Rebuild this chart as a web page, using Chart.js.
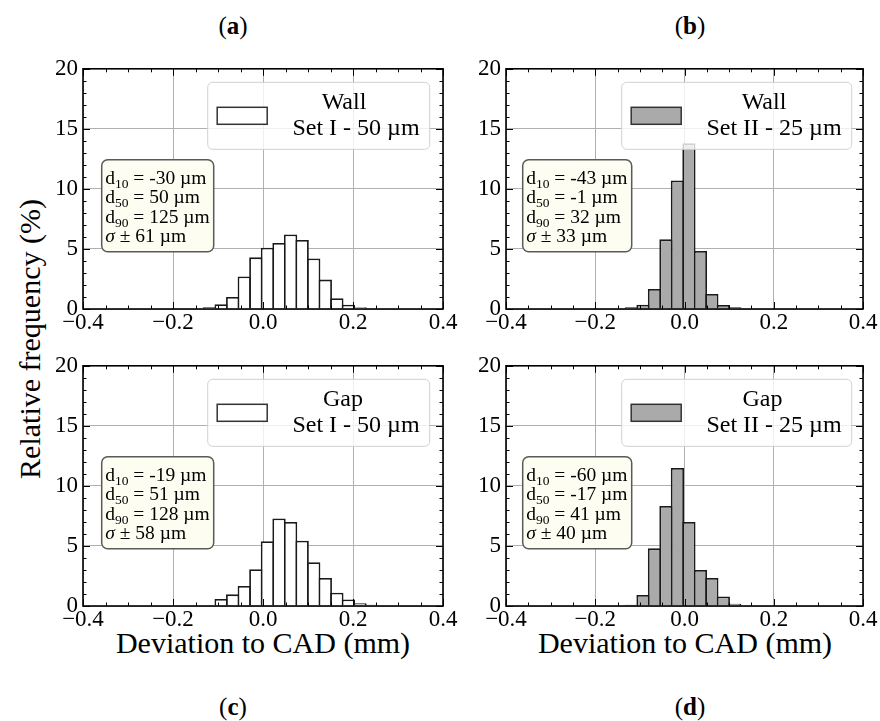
<!DOCTYPE html>
<html>
<head>
<meta charset="utf-8">
<script src="https://cdn.jsdelivr.net/npm/chart.js@4.4.1/dist/chart.umd.min.js"></script>
<style>
  body { margin: 0; width: 880px; height: 721px; background: #fff; position: relative; overflow: hidden;
         font-family: "Liberation Serif", "Times New Roman", serif; color: #000; }
  canvas { position: absolute; }
  .lbl { position: absolute; white-space: nowrap; transform: translate(-50%, -50%); line-height: 1; }
  .title { font-size: 25px; }
  .axis { font-size: 30px; }
</style>
</head>
<body>
<div class="lbl title" style="left:233px; top:25px">(<b>a</b>)</div>
<div class="lbl title" style="left:690px; top:25px">(<b>b</b>)</div>
<div class="lbl title" style="left:233px; top:706px">(<b>c</b>)</div>
<div class="lbl title" style="left:690px; top:706px">(<b>d</b>)</div>
<div class="lbl axis" style="left:30px; top:339px; transform:translate(-50%,-50%) rotate(-90deg)">Relative frequency (%)</div>
<div class="lbl axis" style="left:263px; top:643px">Deviation to CAD (mm)</div>
<div class="lbl axis" style="left:685px; top:643px">Deviation to CAD (mm)</div>

<canvas id="chartA" width="420" height="300" style="left:40px; top:50px"></canvas>
<canvas id="chartB" width="418" height="300" style="left:462px; top:50px"></canvas>
<canvas id="chartC" width="420" height="300" style="left:40px; top:347px"></canvas>
<canvas id="chartD" width="418" height="300" style="left:462px; top:347px"></canvas>

<script>
// Histogram bin centres (mm), shared by all four panels
const binCenters = [-0.1444, -0.1187, -0.0930, -0.0673, -0.0416, -0.0159, 0.0099, 0.0356, 0.0613,
                    0.0870, 0.1127, 0.1384, 0.1641, 0.1898, 0.2155, 0.2412, 0.2669];

// Relative frequency (%) per bin
const wallSetI  = [null, 0.14, 0.4, 1.0, 2.7, 4.3, 5.1, 5.5, 6.2, 5.75, 4.2, 2.45, 0.9, 0.35, 0.15, 0.05, null];
const wallSetII = [null, 0.14, 0.36, 1.67, 5.8, 10.7, 13.8, 4.83, 1.25, 0.33, 0.14, 0.05, null, null, null, null, null];
const gapSetI   = [null, null, 0.58, 0.97, 1.67, 3.06, 5.39, 7.28, 7.0, 5.44, 3.64, 2.33, 1.11, 0.55, 0.22, 0.11, 0.05];
const gapSetII  = [null, 0.1, 0.92, 4.8, 8.33, 11.5, 7.0, 3.0, 2.33, 0.8, 0.19, 0.05, null, null, null, null, null];

// Tick values
const xTicks = [-0.4, -0.2, 0, 0.2, 0.4];
const yTicks = [0, 5, 10, 15, 20];

// Legend labels
const legendNames = ['Wall', 'Wall', 'Gap', 'Gap'];
const legendSets = ['Set I - 50 µm', 'Set II - 25 µm', 'Set I - 50 µm', 'Set II - 25 µm'];

// Statistics text: d10, d50, d90, sigma (µm)
const statsA = ['-30', '50', '125', '61'];
const statsB = ['-43', '-1', '32', '33'];
const statsC = ['-19', '51', '128', '58'];
const statsD = ['-60', '-17', '41', '40'];

const SERIF = '"Liberation Serif", "Times New Roman", serif';
const EDGE = '#1a1a1a';
const BW = 1.8;

function rrect(ctx, x, y, w, h, r) {
    ctx.beginPath();
    ctx.moveTo(x + r, y);
    ctx.arcTo(x + w, y, x + w, y + h, r);
    ctx.arcTo(x + w, y + h, x, y + h, r);
    ctx.arcTo(x, y + h, x, y, r);
    ctx.arcTo(x, y, x + w, y, r);
    ctx.closePath();
}

const panelDecor = {
    id: 'panelDecor',
    afterDatasetsDraw(chart, args, o) {
        const ctx = chart.ctx;
        const a = chart.chartArea;
        ctx.save();

        // statistics box
        const bx = a.left + o.statX, by = a.top + 91;
        rrect(ctx, bx, by, o.statW, 92, 6);
        ctx.fillStyle = '#fdfdf1';
        ctx.fill();
        ctx.lineWidth = 1.5;
        ctx.strokeStyle = '#5a5a5a';
        ctx.stroke();

        ctx.fillStyle = '#000';
        ctx.textBaseline = 'alphabetic';
        ctx.textAlign = 'left';
        const subs = ['10', '50', '90'];
        const tx = bx + 3.5;
        for (let i = 0; i < 3; i++) {
            const yy = by + 24 + i * 19.4;
            ctx.font = '19.5px ' + SERIF;
            ctx.fillText('d', tx, yy);
            let w = ctx.measureText('d').width;
            ctx.font = '13.5px ' + SERIF;
            ctx.fillText(subs[i], tx + w, yy + 4);
            w += ctx.measureText(subs[i]).width;
            ctx.font = '19.5px ' + SERIF;
            ctx.fillText(' = ' + o.stats[i] + ' µm', tx + w, yy);
        }
        const ys = by + 24 + 3 * 19.4;
        ctx.font = 'italic 19.5px ' + SERIF;
        ctx.fillText('σ', tx, ys);
        const sw = ctx.measureText('σ').width;
        ctx.font = '19.5px ' + SERIF;
        ctx.fillText(' ± ' + o.stats[3] + ' µm', tx + sw, ys);

        // legend
        const lx = a.left + o.legX, ly = a.top + 13.5;
        rrect(ctx, lx, ly, o.legW, 67, 5);
        ctx.fillStyle = 'rgba(255,255,255,0.8)';
        ctx.fill();
        ctx.lineWidth = 1;
        ctx.strokeStyle = '#d0d0d0';
        ctx.stroke();

        ctx.fillStyle = o.fill;
        ctx.fillRect(lx + 9.5, ly + 25, 50, 17);
        ctx.lineWidth = 1.5;
        ctx.strokeStyle = '#333';
        ctx.strokeRect(lx + 9.5, ly + 25, 50, 17);

        ctx.fillStyle = '#000';
        ctx.font = '24px ' + SERIF;
        ctx.textAlign = 'center';
        ctx.textBaseline = 'middle';
        ctx.fillText(o.name, lx + o.t1, ly + 20);
        ctx.fillText(o.set, lx + o.t2, ly + 46);
        ctx.restore();
    },
    afterDraw(chart) {
        const ctx = chart.ctx;
        const a = chart.chartArea;
        const x = chart.scales.x, y = chart.scales.y;
        ctx.save();
        ctx.strokeStyle = '#000';
        ctx.lineWidth = 1;
        ctx.beginPath();
        for (let i = 0; i <= 16; i++) {
            const px = Math.round(x.getPixelForValue(-0.4 + i * 0.05)) + 0.5;
            const len = i % 4 === 0 ? 7 : 3.5;
            ctx.moveTo(px, a.bottom); ctx.lineTo(px, a.bottom - len);
            ctx.moveTo(px, a.top); ctx.lineTo(px, a.top + len);
        }
        for (let j = 0; j <= 20; j++) {
            const py = Math.round(y.getPixelForValue(j)) + 0.5;
            const len = j % 5 === 0 ? 7 : 3.5;
            ctx.moveTo(a.left, py); ctx.lineTo(a.left + len, py);
            ctx.moveTo(a.right, py); ctx.lineTo(a.right - len, py);
        }
        ctx.stroke();
        ctx.lineWidth = 1.6;
        ctx.strokeRect(a.left, a.top, a.right - a.left, a.bottom - a.top);
        ctx.restore();
    }
};

function makePanel(id, values, fill, yAxisWidth, decor) {
    const tickFont = { family: SERIF, size: 23 };
    return new Chart(document.getElementById(id), {
        type: 'bar',
        data: {
            datasets: [{
                data: binCenters.map((c, i) => ({ x: c, y: values[i] })),
                backgroundColor: fill,
                borderColor: EDGE,
                borderWidth: BW,
                borderSkipped: 'start',
                barPercentage: 1.155,
                categoryPercentage: 1.0
            }]
        },
        options: {
            responsive: false,
            animation: false,
            layout: { padding: { top: 18, right: 17, left: 0, bottom: 0 } },
            plugins: {
                legend: { display: false },
                tooltip: { enabled: false },
                panelDecor: Object.assign({ fill: fill }, decor)
            },
            scales: {
                x: {
                    type: 'linear',
                    min: -0.4, max: 0.4,
                    offset: false,
                    afterBuildTicks: s => { s.ticks = xTicks.map(v => ({ value: v })); },
                    afterFit: s => { s.height = 41; },
                    ticks: {
                        font: tickFont, color: '#000', padding: 0, maxRotation: 0, autoSkip: false,
                        callback: v => (v < -1e-9 ? '\u2212' : '') + Math.abs(v).toFixed(1)
                    },
                    grid: { color: '#b0b0b0', lineWidth: 1, drawTicks: false, offset: false },
                    border: { display: false }
                },
                y: {
                    min: 0, max: 20,
                    afterBuildTicks: s => { s.ticks = yTicks.map(v => ({ value: v })); },
                    afterFit: s => { s.width = yAxisWidth; },
                    ticks: { font: tickFont, color: '#000', padding: 5, callback: v => String(v) },
                    grid: { color: '#b0b0b0', lineWidth: 1, drawTicks: false },
                    border: { display: false }
                }
            }
        },
        plugins: [panelDecor]
    });
}

const white = '#ffffff';
const grey = '#aaaaaa';

makePanel('chartA', wallSetI, white, 43,
    { stats: statsA, statX: 18.7, statW: 112, legX: 124.7, legW: 222, t1: 136.3, t2: 148.3, name: legendNames[0], set: legendSets[0] });
makePanel('chartB', wallSetII, grey, 44,
    { stats: statsB, statX: 16.7, statW: 109, legX: 115.7, legW: 230, t1: 142.3, t2: 152.3, name: legendNames[1], set: legendSets[1] });
makePanel('chartC', gapSetI, white, 43,
    { stats: statsC, statX: 18.7, statW: 112, legX: 124.7, legW: 222, t1: 135.3, t2: 148.3, name: legendNames[2], set: legendSets[2] });
makePanel('chartD', gapSetII, grey, 44,
    { stats: statsD, statX: 16.7, statW: 109, legX: 115.7, legW: 230, t1: 140.8, t2: 152.3, name: legendNames[3], set: legendSets[3] });
</script>
</body>
</html>
